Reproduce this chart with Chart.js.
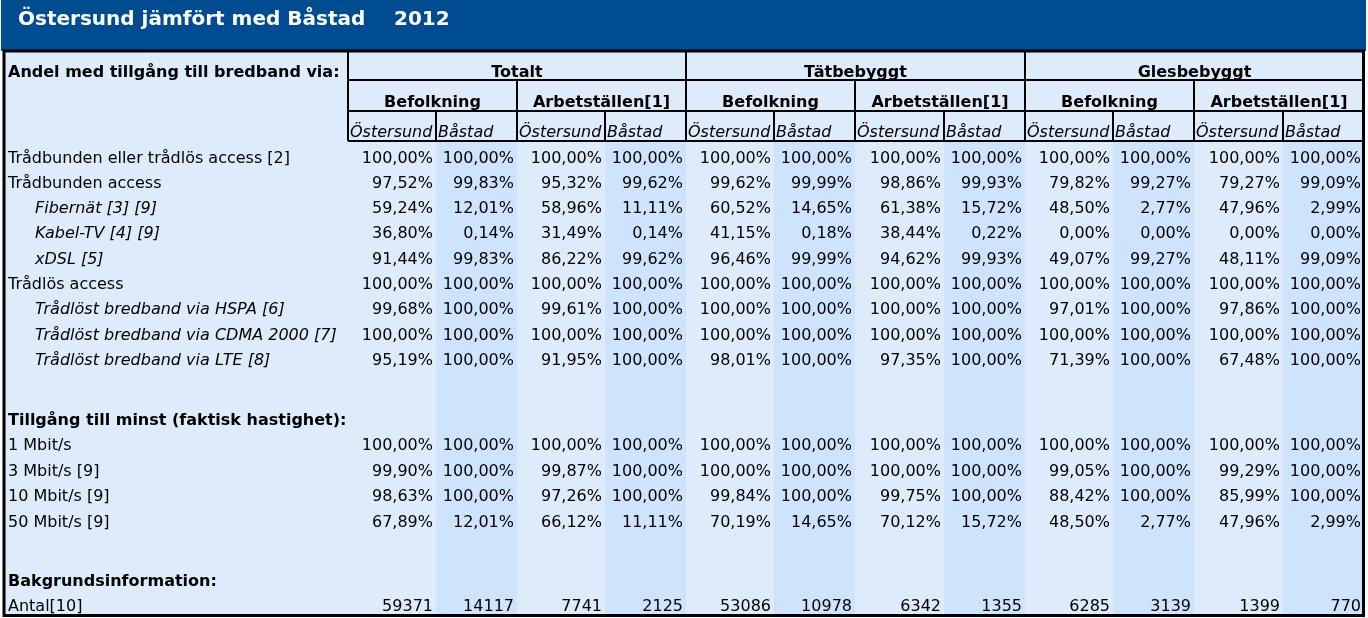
<!DOCTYPE html>
<html>
<head>
<meta charset="utf-8">
<script src="https://cdn.jsdelivr.net/npm/chart.js@4"></script>
<style>
  html, body { margin: 0; padding: 0; background: #fff; }
  #wrap { width: 1368px; height: 618px; }
</style>
</head>
<body>
<div id="wrap"><canvas id="tabell" width="1368" height="618"></canvas></div>
<script>
// Rubriker
const title = 'Östersund jämfört med Båstad';
const year = '2012';
const groups = ['Totalt', 'Tätbebyggt', 'Glesbebyggt'];
const subGroups = ['Befolkning', 'Arbetställen[1]'];
const places = ['Östersund', 'Båstad'];

// Radetiketter
const rowLabels = [
  'Trådbunden eller trådlös access [2]',
  'Trådbunden access',
  'Fibernät [3] [9]',
  'Kabel-TV [4] [9]',
  'xDSL [5]',
  'Trådlös access',
  'Trådlöst bredband via HSPA [6]',
  'Trådlöst bredband via CDMA 2000 [7]',
  'Trådlöst bredband via LTE [8]',
  'Tillgång till minst (faktisk hastighet):',
  '1 Mbit/s',
  '3 Mbit/s [9]',
  '10 Mbit/s [9]',
  '50 Mbit/s [9]',
  'Bakgrundsinformation:',
  'Antal[10]'
];
const rowIndent = [false, false, true, true, true, false, true, true, true, false, false, false, false, false, false, false];
const rowBold = [false, false, false, false, false, false, false, false, false, true, false, false, false, false, true, false];

// Värden per rad, 12 kolumner: Totalt Bef Ö/B, Arb Ö/B, Tätbebyggt ..., Glesbebyggt ...
const rowValues = [
  ['100,00%', '100,00%', '100,00%', '100,00%', '100,00%', '100,00%', '100,00%', '100,00%', '100,00%', '100,00%', '100,00%', '100,00%'],
  ['97,52%', '99,83%', '95,32%', '99,62%', '99,62%', '99,99%', '98,86%', '99,93%', '79,82%', '99,27%', '79,27%', '99,09%'],
  ['59,24%', '12,01%', '58,96%', '11,11%', '60,52%', '14,65%', '61,38%', '15,72%', '48,50%', '2,77%', '47,96%', '2,99%'],
  ['36,80%', '0,14%', '31,49%', '0,14%', '41,15%', '0,18%', '38,44%', '0,22%', '0,00%', '0,00%', '0,00%', '0,00%'],
  ['91,44%', '99,83%', '86,22%', '99,62%', '96,46%', '99,99%', '94,62%', '99,93%', '49,07%', '99,27%', '48,11%', '99,09%'],
  ['100,00%', '100,00%', '100,00%', '100,00%', '100,00%', '100,00%', '100,00%', '100,00%', '100,00%', '100,00%', '100,00%', '100,00%'],
  ['99,68%', '100,00%', '99,61%', '100,00%', '100,00%', '100,00%', '100,00%', '100,00%', '97,01%', '100,00%', '97,86%', '100,00%'],
  ['100,00%', '100,00%', '100,00%', '100,00%', '100,00%', '100,00%', '100,00%', '100,00%', '100,00%', '100,00%', '100,00%', '100,00%'],
  ['95,19%', '100,00%', '91,95%', '100,00%', '98,01%', '100,00%', '97,35%', '100,00%', '71,39%', '100,00%', '67,48%', '100,00%'],
  null,
  ['100,00%', '100,00%', '100,00%', '100,00%', '100,00%', '100,00%', '100,00%', '100,00%', '100,00%', '100,00%', '100,00%', '100,00%'],
  ['99,90%', '100,00%', '99,87%', '100,00%', '100,00%', '100,00%', '100,00%', '100,00%', '99,05%', '100,00%', '99,29%', '100,00%'],
  ['98,63%', '100,00%', '97,26%', '100,00%', '99,84%', '100,00%', '99,75%', '100,00%', '88,42%', '100,00%', '85,99%', '100,00%'],
  ['67,89%', '12,01%', '66,12%', '11,11%', '70,19%', '14,65%', '70,12%', '15,72%', '48,50%', '2,77%', '47,96%', '2,99%'],
  null,
  ['59371', '14117', '7741', '2125', '53086', '10978', '6342', '1355', '6285', '3139', '1399', '770']
];

// Layout (skalans enheter = pixlar)
const colEdges = [348, 436, 517, 605, 686, 774, 855, 944, 1025, 1113, 1194, 1283, 1364];
const rowY = [159, 184, 209, 234, 260, 285, 310, 336, 361, 421, 446, 472, 497, 523, 582, 607];

const FONT = '"DejaVu Sans", Verdana, sans-serif';

const tablePlugin = {
  id: 'tablePlugin',
  beforeDatasetsDraw(chart) {
    const ctx = chart.ctx;
    const xs = chart.scales.x;
    const ys = chart.scales.y;
    const X = v => xs.getPixelForValue(v);
    const Y = v => ys.getPixelForValue(v);

    ctx.save();
    // Bakgrund
    ctx.fillStyle = '#004c91';
    ctx.fillRect(X(1), Y(0), X(1366) - X(1), Y(51) - Y(0));
    ctx.fillStyle = '#ddebfb';
    ctx.fillRect(X(4), Y(51), X(1364) - X(4), Y(616) - Y(51));
    // Båstad-kolumner
    ctx.fillStyle = '#cee4fc';
    for (let c = 1; c < 12; c += 2) {
      ctx.fillRect(X(colEdges[c]), Y(141), X(colEdges[c + 1]) - X(colEdges[c]), Y(615) - Y(141));
    }

    // Titel
    ctx.fillStyle = '#ffffff';
    ctx.font = 'bold 20px ' + FONT;
    ctx.textBaseline = 'middle';
    ctx.textAlign = 'left';
    ctx.fillText(title, X(18), Y(20));
    ctx.fillText(year, X(394), Y(20));

    // Linjer
    ctx.strokeStyle = '#000';
    const line = (x1, y1, x2, y2) => {
      ctx.beginPath();
      ctx.moveTo(X(x1), Y(y1));
      ctx.lineTo(X(x2), Y(y2));
      ctx.stroke();
    };
    ctx.lineWidth = 3;
    ctx.strokeRect(X(4), Y(51), X(1363.5) - X(4), Y(615.5) - Y(51));
    ctx.lineWidth = 2;
    line(348, 51, 348, 141);
    line(348, 80, 1364, 80);
    line(348, 111, 1364, 111);
    line(348, 141, 1364, 141);
    for (let g = 0; g < 3; g++) {
      const x0 = colEdges[g * 4];
      line(x0, 51, x0, 141);
      line(colEdges[g * 4 + 2], 80, colEdges[g * 4 + 2], 141);
      line(colEdges[g * 4 + 1], 111, colEdges[g * 4 + 1], 141);
      line(colEdges[g * 4 + 3], 111, colEdges[g * 4 + 3], 141);
    }

    // Rubriktexter
    ctx.fillStyle = '#000';
    ctx.font = 'bold 16px ' + FONT;
    ctx.textAlign = 'left';
    ctx.fillText('Andel med tillgång till bredband via:', X(8), Y(73));
    ctx.textAlign = 'center';
    groups.forEach((g, i) => {
      ctx.fillText(g, (X(colEdges[i * 4]) + X(colEdges[i * 4 + 4])) / 2, Y(73));
      subGroups.forEach((s, j) => {
        const a = colEdges[i * 4 + j * 2], b = colEdges[i * 4 + j * 2 + 2];
        ctx.fillText(s, (X(a) + X(b)) / 2, Y(103));
      });
    });
    ctx.font = 'italic 16px ' + FONT;
    ctx.textAlign = 'left';
    for (let c = 0; c < 12; c++) {
      ctx.fillText(places[c % 2], X(colEdges[c] + 2), Y(133));
    }

    // Rader
    rowLabels.forEach((label, r) => {
      const y = Y(rowY[r]);
      ctx.textAlign = 'left';
      ctx.font = (rowBold[r] ? 'bold ' : '') + (rowIndent[r] ? 'italic ' : '') + '16px ' + FONT;
      ctx.fillText(label, X(rowIndent[r] ? 35 : 8), y);
      const vals = rowValues[r];
      if (!vals) return;
      ctx.font = '16px ' + FONT;
      ctx.textAlign = 'right';
      vals.forEach((v, c) => {
        ctx.fillText(v, X(colEdges[c + 1] - 3), y);
      });
    });
    ctx.restore();
  }
};

new Chart(document.getElementById('tabell'), {
  type: 'scatter',
  data: { datasets: [{ data: [], pointRadius: 0 }] },
  options: {
    responsive: false,
    animation: false,
    layout: { padding: 0 },
    plugins: { legend: { display: false }, tooltip: { enabled: false } },
    scales: {
      x: { type: 'linear', min: 0, max: 1368, display: false },
      y: { type: 'linear', min: 0, max: 618, reverse: true, display: false }
    }
  },
  plugins: [tablePlugin]
});
</script>
</body>
</html>
